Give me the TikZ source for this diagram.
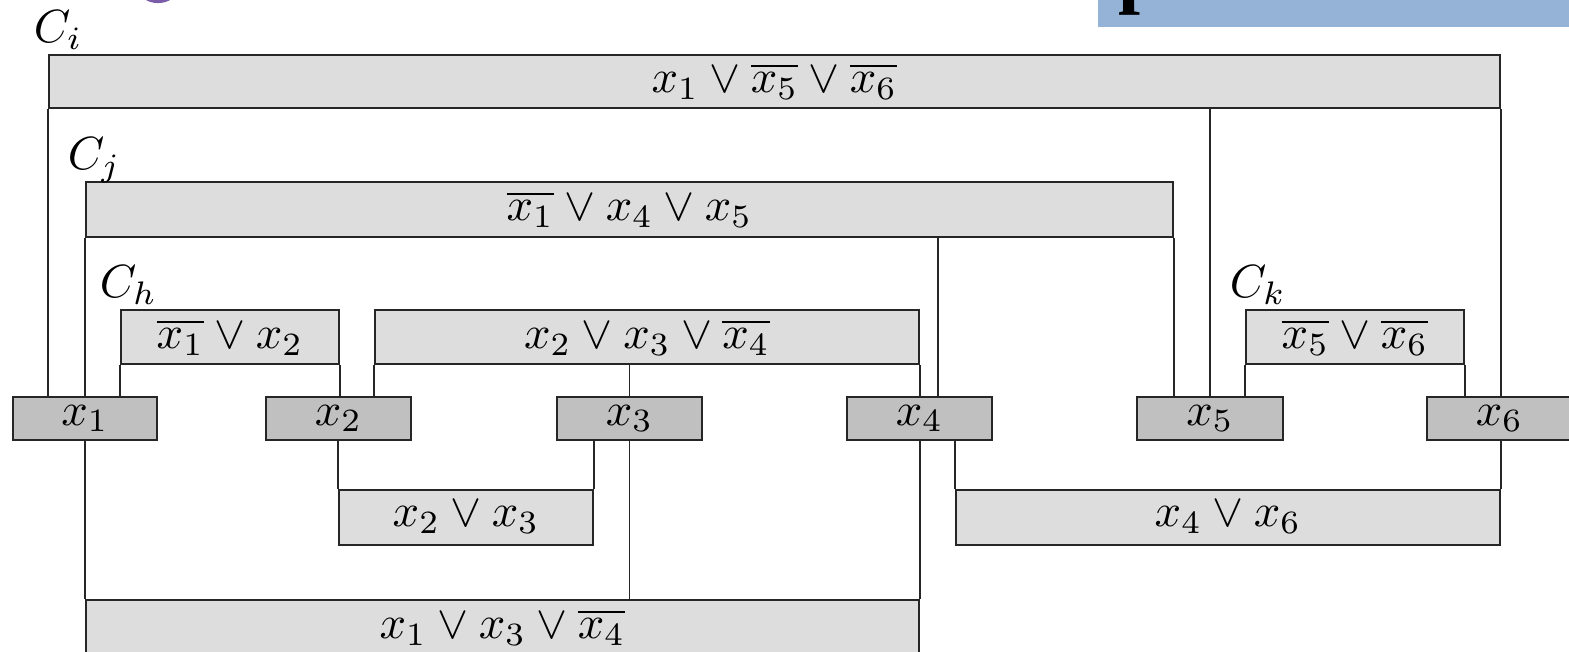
\documentclass[tikz,border=0pt]{standalone}
\usepackage[no-math]{fontspec}
\newfontfamily\headfont{Liberation Serif}
\usetikzlibrary{calc}
\definecolor{clausegray}{RGB}{221,221,221}
\definecolor{vargray}{RGB}{192,192,192}
\definecolor{bannerblue}{RGB}{148,179,215}
\definecolor{bulletpurple}{RGB}{122,92,168}

\begin{document}
\begin{tikzpicture}[x=0.215pt,y=0.215pt,
  % a box given by its left, top, right and bottom edges (y measured downwards)
  span/.style n args={4}{minimum width={(#3-#1)*0.215pt}, minimum height={(#4-#2)*0.215pt},
                         at={({(#1+#3)/2},{-(#2+#4)/2})}},
  clause/.style={draw=black!85, line width=0.5pt, fill=clausegray, inner sep=0pt},
  var/.style={draw=black!85, line width=0.5pt, fill=vargray, inner sep=0pt},
  wire/.style={draw=black!85, line width=0.38pt},
  clabel/.style={anchor=base west, inner sep=0pt}]
\clip (0,0) rectangle (1569,-652);
\useasboundingbox (0,0) rectangle (1569,-652);

% heading strip along the top edge
\fill[bannerblue] (1098,20) rectangle (1600,-27);
\node[anchor=base west, inner sep=0pt, font=\headfont\bfseries\fontsize{17}{17}\selectfont] (banner) at (1118,1.5) {parameterized};
\fill[bulletpurple] (158,9) ellipse [x radius=3.9pt, y radius=2.6pt];

% clause boxes
\node[clause, span={49}{55}{1500}{108}]    (ci)   {$x_1 \vee \overline{x_5} \vee \overline{x_6}$};
\node[clause, span={86}{182}{1173}{237}]   (cj)   {$\overline{x_1} \vee x_4 \vee x_5$};
\node[clause, span={121}{310}{339}{364}]   (ch)   {$\overline{x_1} \vee x_2$};
\node[clause, span={375}{310}{919}{364}]   (c234) {$x_2 \vee x_3 \vee \overline{x_4}$};
\node[clause, span={1246}{310}{1464}{364}] (ck)   {$\overline{x_5} \vee \overline{x_6}$};
\node[clause, span={339}{490}{593}{545}]   (c23)  {$x_2 \vee x_3$};
\node[clause, span={956}{490}{1500}{545}]  (c46)  {$x_4 \vee x_6$};
\node[clause, span={86}{600}{919}{655}]    (c134) {$x_1 \vee x_3 \vee \overline{x_4}$};

% variable boxes
\node[var, span={13}{397}{157}{440}]    (x1) {$x_1$};
\node[var, span={266}{397}{411}{440}]   (x2) {$x_2$};
\node[var, span={557}{397}{702}{440}]   (x3) {$x_3$};
\node[var, span={847}{397}{992}{440}]   (x4) {$x_4$};
\node[var, span={1137}{397}{1283}{440}] (x5) {$x_5$};
\node[var, span={1427}{397}{1572}{440}] (x6) {$x_6$};

% clause names
\node[clabel] (lci) at (33,-43)   {$C_i$};
\node[clabel] (lcj) at (67,-170)  {$C_j$};
\node[clabel] (lch) at (99,-298)  {$C_h$};
\node[clabel] (lck) at (1229,-298) {$C_k$};

% wires above the variables
\draw[wire] (ci.south west) -- (ci.south west |- x1.north);
\draw[wire] (ci.south -| x5.north) -- (x5.north);
\draw[wire] (ci.south east) -- (ci.south east |- x6.north);

\draw[wire] (cj.south west) -- (cj.south west |- x1.north);
\coordinate (x4r) at ($(x4.north)+(18.5,0)$);
\draw[wire] (cj.south -| x4r) -- (x4r);
\draw[wire] (cj.south east) -- (cj.south east |- x5.north);

\draw[wire] (ch.south west) -- (ch.south west |- x1.north);
\draw[wire] (ch.south east) -- (ch.south east |- x2.north);

\draw[wire] (c234.south west) -- (c234.south west |- x2.north);
\draw[wire] (c234.south -| x3.north) -- (x3.north);
\draw[wire] (c234.south east) -- (c234.south east |- x4.north);

\draw[wire] (ck.south west) -- (ck.south west |- x5.north);
\draw[wire] (ck.south east) -- (ck.south east |- x6.north);

% wires below the variables
\draw[wire] (c23.north west) -- (c23.north west |- x2.south);
\draw[wire] (c23.north east) -- (c23.north east |- x3.south);

\draw[wire] (c134.north west) -- (c134.north west |- x1.south);
\draw[wire] (x3.south) -- (x3.south |- c134.north);
\draw[wire] (c134.north east) -- (c134.north east |- x4.south);

\draw[wire] (c46.north west) -- (c46.north west |- x4.south);
\draw[wire] (c46.north east) -- (c46.north east |- x6.south);
\end{tikzpicture}
\end{document}
